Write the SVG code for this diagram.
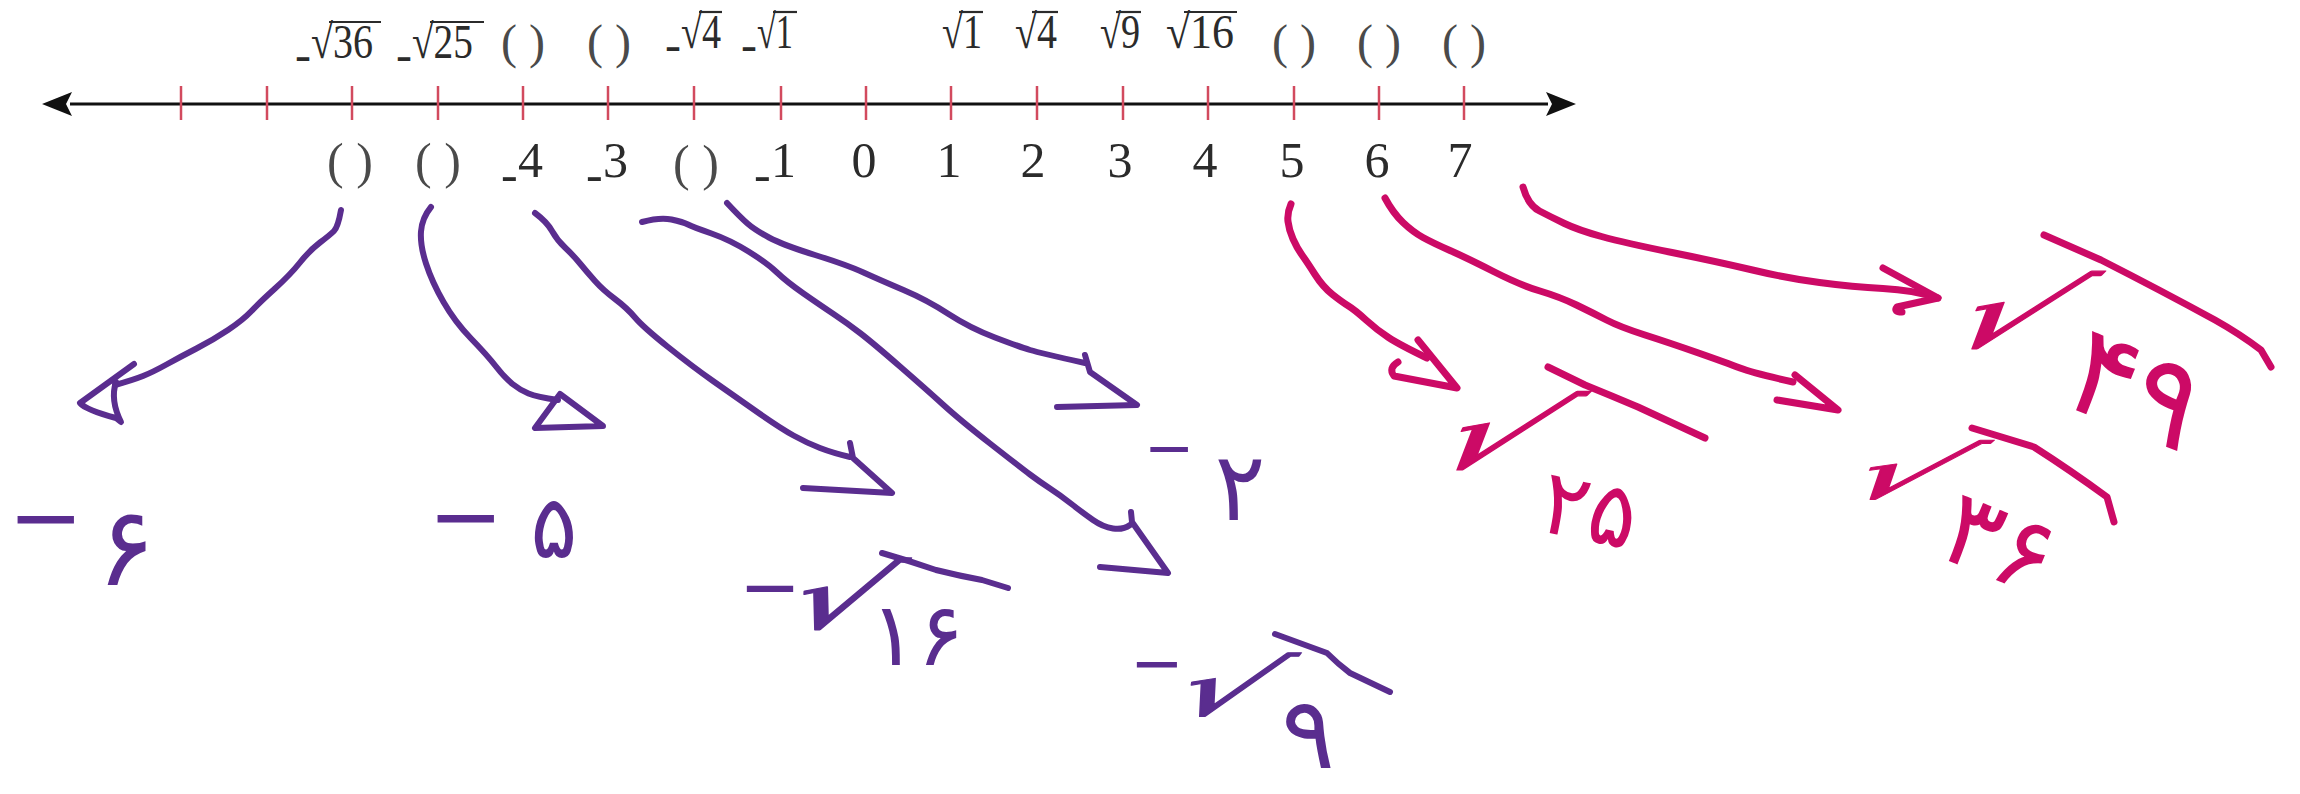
<svg xmlns="http://www.w3.org/2000/svg" width="2300" height="794" viewBox="0 0 2300 794">
<defs>
<style>
.tp{font-family:"Liberation Serif","Times New Roman",serif;font-size:48px;fill:#2b2b2b}
.bt{font-family:"Liberation Serif","Times New Roman",serif;font-size:50px;fill:#2b2b2b}
.par{fill:#4a4a4a}
.ov{stroke:#2b2b2b;stroke-width:2.2;fill:none}
.tick{stroke:#d24a5e;stroke-width:2.5}
.axis{stroke:#111;stroke-width:3}
.pu{stroke:#5a2d8f;stroke-width:6;fill:none;stroke-linecap:round;stroke-linejoin:round}
.pk{stroke:#cc0a66;stroke-width:7;fill:none;stroke-linecap:round;stroke-linejoin:round}
.hwp{font-family:"DejaVu Sans",sans-serif;fill:#5a2d8f}
.hwk{font-family:"DejaVu Sans",sans-serif;fill:#cc0a66}
.rad{font-size:80px;stroke-width:1.2;stroke-linejoin:round}
.hwp.rad{stroke:#5a2d8f}
.hwk.rad{stroke:#cc0a66}
</style>
<marker id="ah" viewBox="0 0 30 24" refX="2" refY="12" markerWidth="30" markerHeight="24" markerUnits="userSpaceOnUse" orient="auto-start-reverse">
<path d="M30,12 L0,0 L6,12 L0,24 Z" fill="#111"/>
</marker>
</defs>
<rect width="2300" height="794" fill="#fff"/>

<g id="axis">
<line class="axis" x1="70" y1="104" x2="1548" y2="104" marker-start="url(#ah)" marker-end="url(#ah)"/>
<g class="tick">
<line x1="181" y1="86" x2="181" y2="120"/><line x1="267" y1="86" x2="267" y2="120"/><line x1="352" y1="86" x2="352" y2="120"/><line x1="438" y1="86" x2="438" y2="120"/><line x1="523" y1="86" x2="523" y2="120"/><line x1="608" y1="86" x2="608" y2="120"/><line x1="694" y1="86" x2="694" y2="120"/><line x1="781" y1="86" x2="781" y2="120"/><line x1="866" y1="86" x2="866" y2="120"/><line x1="951" y1="86" x2="951" y2="120"/><line x1="1037" y1="86" x2="1037" y2="120"/><line x1="1123" y1="86" x2="1123" y2="120"/><line x1="1208" y1="86" x2="1208" y2="120"/><line x1="1294" y1="86" x2="1294" y2="120"/><line x1="1379" y1="86" x2="1379" y2="120"/><line x1="1464" y1="86" x2="1464" y2="120"/>
</g>
</g>

<g id="top-m6"><text class="tp" y="58"><tspan x="295" dy="13">-</tspan><tspan x="311" dy="-13" textLength="62" lengthAdjust="spacingAndGlyphs">√36</tspan></text><line class="ov" x1="329" y1="22" x2="381" y2="22"/></g>
<g id="top-m5"><text class="tp" y="58"><tspan x="396" dy="13">-</tspan><tspan x="412" dy="-13" textLength="61" lengthAdjust="spacingAndGlyphs">√25</tspan></text><line class="ov" x1="430" y1="22" x2="484" y2="22"/></g>
<g id="top-m4"><text class="tp par" x="523" y="58" text-anchor="middle">( )</text></g>
<g id="top-m3"><text class="tp par" x="609" y="58" text-anchor="middle">( )</text></g>
<g id="top-m2"><text class="tp" y="48"><tspan x="665" dy="13">-</tspan><tspan x="681" dy="-13" textLength="40" lengthAdjust="spacingAndGlyphs">√4</tspan></text><line class="ov" x1="699" y1="12" x2="722" y2="12"/></g>
<g id="top-m1"><text class="tp" y="48"><tspan x="741" dy="13">-</tspan><tspan x="757" dy="-13" textLength="36" lengthAdjust="spacingAndGlyphs">√1</tspan></text><line class="ov" x1="773" y1="12" x2="797" y2="12"/></g>
<g id="top-p1"><text class="tp" x="942" y="48" textLength="40" lengthAdjust="spacingAndGlyphs">√1</text><line class="ov" x1="959" y1="12" x2="983" y2="12"/></g>
<g id="top-p2"><text class="tp" x="1015" y="48" textLength="42" lengthAdjust="spacingAndGlyphs">√4</text><line class="ov" x1="1032" y1="12" x2="1058" y2="12"/></g>
<g id="top-p3"><text class="tp" x="1100" y="48" textLength="40" lengthAdjust="spacingAndGlyphs">√9</text><line class="ov" x1="1116" y1="12" x2="1141" y2="12"/></g>
<g id="top-p4"><text class="tp" x="1166" y="48" textLength="68" lengthAdjust="spacingAndGlyphs">√16</text><line class="ov" x1="1184" y1="12" x2="1237" y2="12"/></g>
<g id="top-p5"><text class="tp par" x="1294" y="58" text-anchor="middle">( )</text></g>
<g id="top-p6"><text class="tp par" x="1379" y="58" text-anchor="middle">( )</text></g>
<g id="top-p7"><text class="tp par" x="1464" y="58" text-anchor="middle">( )</text></g>

<g id="bot-m6"><text class="bt par" x="350" y="178" text-anchor="middle">( )</text></g>
<g id="bot-m5"><text class="bt par" x="438" y="178" text-anchor="middle">( )</text></g>
<g id="bot-m4"><text class="bt" y="177"><tspan x="501" dy="14">-</tspan><tspan x="518" dy="-14">4</tspan></text></g>
<g id="bot-m3"><text class="bt" y="177"><tspan x="586" dy="14">-</tspan><tspan x="603" dy="-14">3</tspan></text></g>
<g id="bot-m2"><text class="bt par" x="696" y="180" text-anchor="middle">( )</text></g>
<g id="bot-m1"><text class="bt" y="177"><tspan x="754" dy="14">-</tspan><tspan x="771" dy="-14">1</tspan></text></g>
<g id="bot-0"><text class="bt" x="864" y="177" text-anchor="middle">0</text></g>
<g id="bot-1"><text class="bt" x="949" y="177" text-anchor="middle">1</text></g>
<g id="bot-2"><text class="bt" x="1033" y="177" text-anchor="middle">2</text></g>
<g id="bot-3"><text class="bt" x="1120" y="177" text-anchor="middle">3</text></g>
<g id="bot-4"><text class="bt" x="1205" y="177" text-anchor="middle">4</text></g>
<g id="bot-5"><text class="bt" x="1292" y="177" text-anchor="middle">5</text></g>
<g id="bot-6"><text class="bt" x="1377" y="177" text-anchor="middle">6</text></g>
<g id="bot-7"><text class="bt" x="1460" y="177" text-anchor="middle">7</text></g>

<g id="hw-m6"><text class="hwp"><tspan x="8" y="548" font-size="90">−</tspan><tspan x="126" y="585" font-size="110" text-anchor="middle">۶</tspan></text></g>
<g id="hw-m5"><text class="hwp"><tspan x="428" y="547" font-size="90">−</tspan><tspan x="554" y="558" font-size="88" text-anchor="middle">۵</tspan></text></g>
<g id="hw-m16"><text class="hwp" x="739" y="612" font-size="74">−</text><text class="hwp rad" transform="translate(779 628) skewX(-30) scale(1.8 1.08)">√</text><text class="hwp" x="917" y="665" font-size="88" text-anchor="middle">۱۶</text><path class="pu" d="M882,553 Q910,561 936,570 Q960,576 982,580 L1008,588"/></g>
<g id="hw-m9"><text class="hwp" x="1130" y="685" font-size="64">−</text><text class="hwp rad" transform="translate(1164 715) skewX(-36) scale(1.8 0.96)">√</text><text class="hwp" x="1308" y="768" font-size="100" text-anchor="middle">۹</text><path class="pu" d="M1275,634 L1327,653 Q1338,664 1350,673 L1390,692"/></g>
<g id="hw-m2"><text class="hwp"><tspan x="1144" y="468" font-size="60">−</tspan><tspan x="1240" y="520" font-size="95" text-anchor="middle">۲</tspan></text></g>
<g id="hw-s25"><text class="hwk rad" transform="translate(1420 468) skewX(-44) scale(1.9 1.18)">√</text><text class="hwk" font-size="90" text-anchor="middle" transform="translate(1583 540) rotate(12)">۲۵</text><path class="pk" d="M1548,367 L1585,385 Q1612,396 1638,407 L1705,438"/></g>
<g id="hw-s36"><text class="hwk rad" transform="translate(1833 498) skewX(-48) scale(1.9 0.89)">√</text><text class="hwk" font-size="105" text-anchor="middle" transform="translate(1986 576) rotate(22)">۳۶</text><path class="pk" d="M1972,428 L2034,447 Q2070,470 2107,497 L2114,522"/></g>
<g id="hw-s49"><text class="hwk rad" transform="translate(1935 347) skewX(-44) scale(1.9 1.17)">√</text><text class="hwk" font-size="125" text-anchor="middle" transform="translate(2120 428) rotate(22)">۴۹</text><path class="pk" d="M2044,235 L2101,260 Q2160,290 2215,320 Q2240,334 2261,350 L2271,367"/></g>

<g id="connectors">
<path class="pu" d="M341,210 Q338,227 334,231 Q330,235 320,242.5 Q310,250 300,262.5 Q290,275 275,288.5 Q260,302 251.5,311 Q243,320 228,330 Q213,340 196.5,348.5 Q180,357 166.5,364.5 Q153,372 143,376 Q133,380 115,385"/>
<path class="pu" d="M134,364 L80,403 Q86,410 116,418 L121,422 Q110,400 116,382"/>
<path class="pu" d="M431,207 Q422,218 421,231.5 Q420,245 426,263.5 Q432,282 443.5,302 Q455,322 471,338.5 Q487,355 496,366.5 Q505,378 512.5,384 Q520,390 528.5,393.5 Q537,397 558,400"/>
<path class="pu" d="M560,394 L535,428 L603,426 Z"/>
<path class="pu" d="M535,213 Q547,222 552,231 Q557,240 565,247.5 Q573,255 580,263.5 Q587,272 595,281 Q603,290 615,299 Q627,308 635,317.5 Q643,327 668,347 Q693,367 713,381 Q733,395 756.5,411.5 Q780,428 793.5,435.5 Q807,443 820,448 Q833,453 850,457"/>
<path class="pu" d="M850,443 L853,458 L892,493 L803,488"/>
<path class="pu" d="M642,222 Q660,217 671.5,219.5 Q683,222 688,224.5 Q693,227 711.5,233.5 Q730,240 748.5,251.5 Q767,263 777,272.5 Q787,282 803.5,293.5 Q820,305 833.5,314 Q847,323 860,333 Q873,343 900,366.5 Q927,390 943.5,405 Q960,420 990,443.5 Q1020,467 1030,474.5 Q1040,482 1050,488.5 Q1060,495 1071.5,504 Q1083,513 1093,520 Q1103,527 1113,528.5 Q1123,530 1130,525"/>
<path class="pu" d="M1131,512 L1132,522 L1168,573 L1100,567"/>
<path class="pu" d="M727,203 Q740,217 747.5,223.5 Q755,230 769,237.5 Q783,245 815,255 Q847,265 863.5,272.5 Q880,280 903.5,290 Q927,300 948.5,314 Q970,328 995,337.5 Q1020,347 1030,350 Q1040,353 1085,363"/>
<path class="pu" d="M1085,355 L1090,372 L1137,405 L1057,407"/>
<path class="pk" d="M1291,204 Q1287,213 1288,221.5 Q1289,230 1293,239 Q1297,248 1302,255 Q1307,262 1315,274.5 Q1323,287 1332.5,294.5 Q1342,302 1348.5,306 Q1355,310 1366,320 Q1377,330 1388.5,337.5 Q1400,345 1427,358"/>
<path class="pk" d="M1418,340 L1457,388 L1394,376 Q1388,368 1398,362"/>
<path class="pk" d="M1385,198 Q1393,213 1403,222.5 Q1413,232 1423,237.5 Q1433,243 1450,250.5 Q1467,258 1493.5,271.5 Q1520,285 1540,291 Q1560,297 1576.5,305 Q1593,313 1606.5,320 Q1620,327 1645,335 Q1670,343 1698.5,353 Q1727,363 1740,368 Q1753,373 1793,382"/>
<path class="pk" d="M1795,375 L1838,410 L1777,400"/>
<path class="pk" d="M1523,187 Q1528,205 1539.5,211 Q1551,217 1564.5,223.5 Q1578,230 1601.5,236.5 Q1625,243 1672,252.5 Q1719,262 1752.5,270 Q1786,278 1819.5,282.5 Q1853,287 1883,288.5 Q1913,290 1938,298"/>
<path class="pk" d="M1883,268 L1938,298 L1897,307 Q1893,312 1902,312"/>
</g>
</svg>
